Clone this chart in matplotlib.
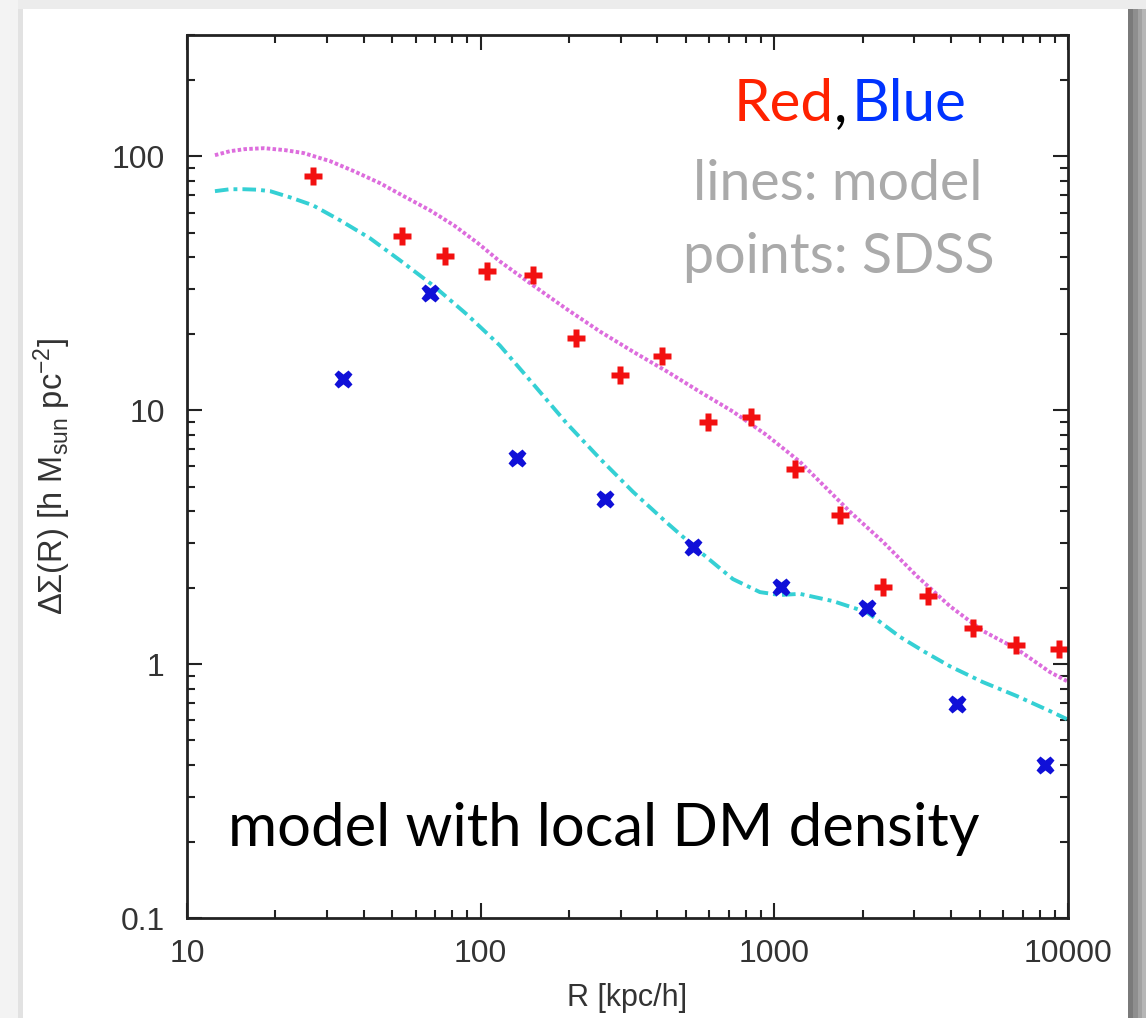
import matplotlib

matplotlib.use("Agg")
import matplotlib.pyplot as plt
from matplotlib.patches import Rectangle
from matplotlib.ticker import FixedLocator, LogLocator, NullFormatter

plt.rcParams["mathtext.fontset"] = "custom"
plt.rcParams["mathtext.rm"] = "Liberation Sans"
plt.rcParams["mathtext.it"] = "Liberation Sans:italic"

W, H = 1146, 1018

# SDSS points
red_r = [26.8, 54, 75.5, 105, 151, 211, 298, 414, 594, 832, 1175, 1672, 2345, 3336, 4745, 6652, 9310]
red_ds = [83.4, 48.3, 40.3, 35.2, 33.9, 19.3, 13.7, 16.3, 9.0, 9.43, 5.88, 3.87, 2.01, 1.85, 1.39, 1.19, 1.15]
blue_r = [34, 67.2, 133, 265, 528, 1052, 2066, 4190, 8340]
blue_ds = [13.2, 28.8, 6.5, 4.48, 2.89, 2.01, 1.66, 0.695, 0.40]

# model curves
red_model_r = [12.45, 14.0, 15.76, 18.3, 21.6, 25.0, 30.7, 37.0, 45.4, 54.8, 67.2, 81.1, 97.9, 116.3,
               150.7, 195.2, 254.8, 330, 430.8, 558, 722.8, 936, 1222, 1487, 1809, 2343, 3058, 3962,
               5132, 6699, 8678, 9915]
red_model_ds = [100.9, 104.6, 106.6, 107.5, 105.6, 102.8, 95.6, 87.3, 78.3, 69.5, 61.2, 53.4, 45.4, 38.5,
                31.0, 25.1, 20.4, 17.0, 14.2, 11.8, 9.87, 8.01, 6.26, 4.99, 3.98, 3.03, 2.22, 1.69,
                1.35, 1.146, 0.93, 0.857]
blue_model_r = [12.45, 14.0, 15.6, 17.3, 19.2, 22.4, 26.8, 33.2, 42.0, 53.1, 68.8, 89.8, 116.3, 150.7,
                196.7, 254.8, 330, 430.8, 558, 723, 893, 1045, 1222, 1583, 2067, 2677, 3257, 3962,
                5132, 6699, 8678, 9915]
blue_model_ds = [72.8, 74.1, 74.1, 73.8, 72.8, 68.9, 64.1, 55.9, 47.5, 38.9, 31.0, 23.8, 17.96, 12.7,
                 8.85, 6.44, 4.77, 3.60, 2.77, 2.16, 1.92, 1.87, 1.89, 1.77, 1.60, 1.28, 1.115, 0.98,
                 0.849, 0.748, 0.653, 0.607]

x_ticks = [10, 100, 1000, 10000]
x_ticklabels = ["10", "100", "1000", "10000"]
y_ticks = [0.1, 1, 10, 100]
y_ticklabels = ["0.1", "1", "10", "100"]


def px(x, y):
    return x / W, 1 - y / H


def strip(x0, x1, y0, color, z):
    fig.patches.append(Rectangle(px(x0, H), (x1 - x0) / W, 1 - y0 / H, transform=fig.transFigure,
                                 color=color, zorder=z, lw=0))


fig = plt.figure(figsize=(W / 100, H / 100), dpi=100)
fig.patch.set_facecolor("#ececec")

# slide panel and its shadow
strip(0, 18, 0, "#f3f3f3", -3)
strip(18, 23, 9, "#e2e2e2", -3)
strip(1128, 1133, 9, "#7a7a7a", -3)
strip(1133, 1138, 9, "#8e8e8e", -3)
strip(1138, 1142, 9, "#a2a2a2", -3)
strip(1142, 1146, 9, "#b6b6b6", -3)
strip(23, 1128, 9, "white", -1)

ax = fig.add_axes([187 / W, 1 - 918 / H, (1068 - 187) / W, (918 - 35) / H])
ax.set_facecolor("none")

ax.plot(red_model_r, red_model_ds, color="#dd6ddd", lw=2.8, linestyle=(0, (0.9, 0.6)))
ax.plot(blue_model_r, blue_model_ds, color="#35d0d4", lw=2.8, linestyle=(0, (3.5, 1.3, 1, 1.3)))
ax.plot(red_r, red_ds, "P", color="#f21010", ms=13, mec="none", clip_on=False)
ax.plot(blue_r, blue_ds, "X", color="#1010d8", ms=13.5, mec="none")

ax.set_xscale("log")
ax.set_yscale("log")
ax.set_xlim(10, 10000)
ax.set_ylim(0.1, 300)

ax.xaxis.set_major_locator(FixedLocator(x_ticks))
ax.set_xticklabels(x_ticklabels)
ax.yaxis.set_major_locator(FixedLocator(y_ticks))
ax.set_yticklabels(y_ticklabels)
ax.xaxis.set_minor_locator(LogLocator(base=10, subs=range(2, 10)))
ax.yaxis.set_minor_locator(LogLocator(base=10, subs=range(2, 10)))
ax.xaxis.set_minor_formatter(NullFormatter())
ax.yaxis.set_minor_formatter(NullFormatter())

ax.tick_params(which="both", direction="in", top=True, right=True, color="#222222", width=1.5,
               labelsize=23, labelcolor="#333333")
ax.tick_params(which="major", length=11)
ax.tick_params(which="minor", length=6)
ax.tick_params(axis="x", pad=15)
ax.tick_params(axis="y", pad=16)
for label in ax.get_xticklabels() + ax.get_yticklabels():
    label.set_family("Liberation Sans")
for spine in ax.spines.values():
    spine.set_linewidth(2)
    spine.set_color("#222222")

ax.set_xlabel("R [kpc/h]", family="Liberation Sans", fontsize=22, color="#333333", labelpad=10)
ax.set_ylabel(r"ΔΣ(R) [h M$_{\mathrm{sun}}$ pc$^{\mathrm{{-}2}}$]", family="Liberation Sans",
              fontsize=23.5, color="#333333", labelpad=28)

# slide annotations
font = "Lato"
fig.text(*px(834, 121), "Red", color="#ff2200", fontsize=42, family=font, ha="right", va="baseline")
fig.text(*px(834, 121), ",", color="black", fontsize=42, family=font, ha="left", va="baseline")
fig.text(*px(852, 121), "Blue", color="#0033ff", fontsize=42, family=font, ha="left", va="baseline")
fig.text(*px(838, 200), "lines: model", color="#aaaaaa", fontsize=40, family=font, ha="center", va="baseline")
fig.text(*px(839, 273), "points: SDSS", color="#aaaaaa", fontsize=40, family=font, ha="center", va="baseline")
fig.text(*px(604, 846), "model with local DM density", color="black", fontsize=43, family=font,
         ha="center", va="baseline")

fig.savefig("out.png", dpi=100)
